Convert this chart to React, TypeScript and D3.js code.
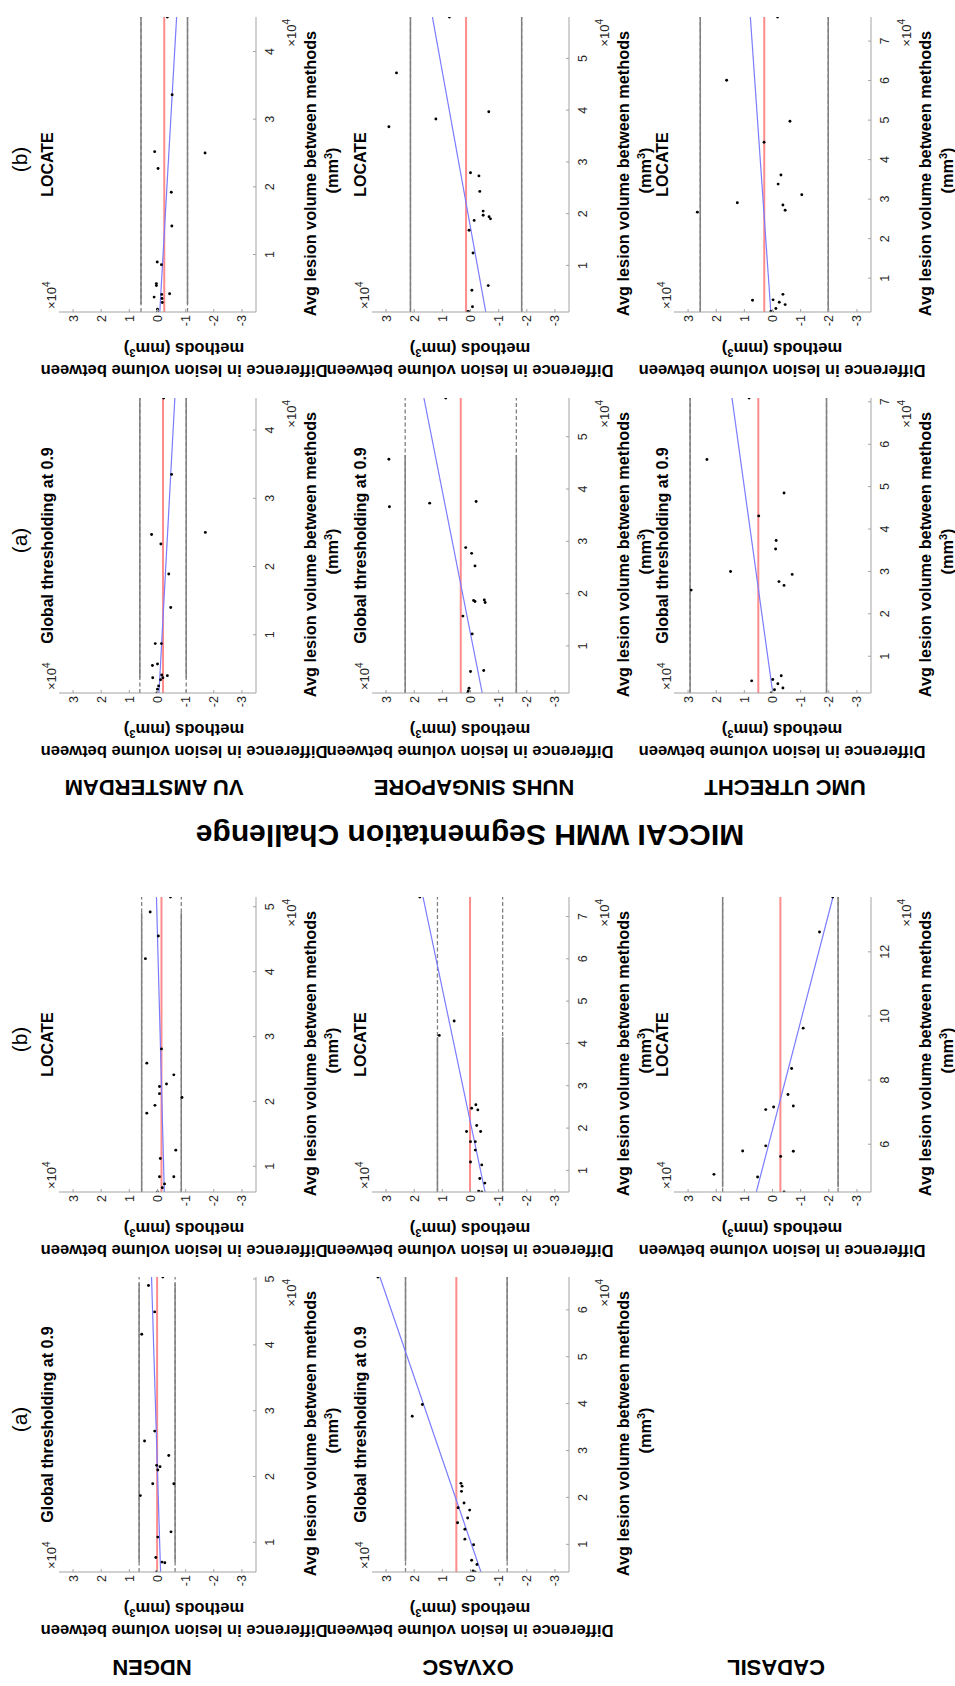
import React from 'react';
import * as d3 from 'd3';

// Bland–Altman data per site: average lesion volume between methods (mm³)
// and difference in lesion volume between methods (mm³).
const vuLocateAvg = [45100, 33600, 25200, 25000, 22700, 19200, 14200, 8900, 8500, 5700, 5400, 4200, 3700, 4100, 3500, 2900, 1900, 1500];
const vuLocateDiff = [-3500, -5200, 1000, -16900, -200, -4900, -5100, 100, -1400, 400, 400, -4300, 1200, -1500, -1600, -1700, 0, 0];

const vuGlobalAvg = [44700, 33500, 25000, 24700, 23300, 18900, 14000, 8700, 8700, 5700, 5500, 4000, 3700, 4100, 3700, 3400, 2500, 2000, 1460];
const vuGlobalDiff = [-2200, -5000, -17000, 2100, -1200, -4000, -4700, 800, -1400, 0, 1800, -3500, 1700, -1500, -1900, -1100, -400, 0, 200];

const nuhsLocateAvg = [58000, 47200, 36800, 38300, 39700, 27900, 27300, 24300, 20500, 19700, 19400, 19000, 18700, 16800, 12400, 6100, 5200, 2000, 1100, 1000];
const nuhsLocateDiff = [7500, 26300, 29000, 12300, -6500, 0, -3000, -3300, -4500, -4500, -6600, -7100, -1300, 500, -900, -6300, -500, -700, 900, 300];

const nuhsGlobalAvg = [57400, 45700, 36600, 37300, 37600, 28800, 27700, 25300, 18700, 18500, 18800, 18300, 15700, 12300, 5100, 5300, 1900, 1400, 1000];
const nuhsGlobalDiff = [8800, 29000, 28800, 14500, -2000, 1700, -400, -1600, -1100, -1600, -4900, -5200, 2700, -600, 0, -4700, 500, 800, 1000];

// the last subject of each Utrecht series lies above the plotted range
const umcLocateAvg = [76100, 60100, 49700, 44400, 36100, 33800, 31100, 29100, 28500, 27200, 26700, 4400, 5900, 4500, 3900, 3300, 2300, 1600, 1430, 38000];
const umcLocateDiff = [-1800, 16300, -6200, 3000, -3000, -2000, -10400, 12500, -3700, -4500, 26700, 7100, -3700, -200, -2400, -4500, -1200, 600, 0, 36000];

const umcGlobalAvg = [70900, 56400, 48500, 43100, 37300, 35300, 30000, 29300, 27600, 26700, 25600, 4200, 4500, 5400, 3500, 2500, 2100, 1330, 40000];
const umcGlobalDiff = [8300, 23300, -4100, 4900, -1300, -1100, 14900, -7000, -2300, -4100, 28900, 7400, -100, -3100, -1900, -3700, -700, 500, 37000];

const ndgenLocateAvg = [51500, 49200, 45500, 42000, 28100, 25900, 24100, 22700, 22300, 21200, 20600, 19400, 18200, 12500, 11200, 8400, 8400, 7300, 6700, 6050];
const ndgenLocateDiff = [-4600, 2600, -300, 4300, -1400, 3800, -5800, -3200, -700, -700, -8700, 900, 3800, -6500, -1000, -700, -5800, -2500, -1700, 0];

const oxvascLocateAvg = [74600, 45300, 41900, 25500, 24300, 24700, 20600, 19200, 19200, 16800, 16800, 14800, 12000, 11300, 8100, 7000, 5100, 4900];
const oxvascLocateDiff = [18000, 5800, 11100, -1900, -2600, -400, -2200, 1400, -3600, 0, -1700, -1700, 0, -4000, -3300, -5100, -2900, -4000];

const cadasilLocateAvg = [137100, 126200, 96200, 83600, 75500, 71600, 70800, 71900, 59500, 57900, 57800, 56200, 49800, 50600, 45100];
const cadasilLocateDiff = [-21400, -16700, -10900, -6800, -5500, -400, 2400, -7400, 2400, 10600, -7400, -2900, 5300, 20800, -4100];

const ndgenGlobalAvg = [50300, 49000, 45000, 41600, 26900, 25400, 23200, 21700, 21500, 21000, 18900, 18900, 17100, 11600, 10800, 7700, 7000, 6900, 5500];
const ndgenGlobalDiff = [-1900, 3200, 1000, 5600, 1000, 4600, -4000, 300, -900, -100, 1700, -5800, 6100, -4800, -100, 600, -1600, -2600, 300];

const oxvascGlobalAvg = [67000, 37300, 39800, 23000, 22400, 21300, 18800, 17800, 17300, 15600, 14600, 13200, 11100, 9900, 6600, 5700, 4300, 4100];
const oxvascGlobalDiff = [32900, 20700, 17100, 3400, 3000, 3200, 2300, 4400, 300, 1000, 4600, 2000, 2000, -1100, -400, -2300, -900, -1600];

// tick labels (×10^4)
const yTicks = [-3, -2, -1, 0, 1, 2, 3];
const ticks4 = [1, 2, 3, 4];
const ticks5 = [1, 2, 3, 4, 5];
const ticks6 = [1, 2, 3, 4, 5, 6];
const ticks7 = [1, 2, 3, 4, 5, 6, 7];
const ticksCadasil = [6, 8, 10, 12];

const figureTitle = 'MICCAI WMH Segmentation Challenge';
const topSites = ['VU AMSTERDAM', 'NUHS SINGAPORE', 'UMC UTRECHT'];
const bottomSites = ['NDGEN', 'OXVASC', 'CADASIL'];
const LOCATE = 'LOCATE';
const GLOBAL = 'Global thresholding at 0.9';

const INF = Infinity;
const panels = [
  { id: 'vuL', row: 0, col: 0, title: LOCATE, tag: '(b)', avg: vuLocateAvg, diff: vuLocateDiff, ticks: ticks4, solid: [2700, INF] },
  { id: 'nuL', row: 0, col: 1, title: LOCATE, avg: nuhsLocateAvg, diff: nuhsLocateDiff, ticks: ticks5, solid: [-INF, INF] },
  { id: 'umL', row: 0, col: 2, title: LOCATE, avg: umcLocateAvg, diff: umcLocateDiff, ticks: ticks7, solid: [-INF, INF] },
  { id: 'vuG', row: 1, col: 0, title: GLOBAL, tag: '(a)', avg: vuGlobalAvg, diff: vuGlobalDiff, ticks: ticks4, solid: [3700, INF] },
  { id: 'nuG', row: 1, col: 1, title: GLOBAL, avg: nuhsGlobalAvg, diff: nuhsGlobalDiff, ticks: ticks5, solid: [-INF, 46500] },
  { id: 'umG', row: 1, col: 2, title: GLOBAL, avg: umcGlobalAvg, diff: umcGlobalDiff, ticks: ticks7, solid: [-INF, INF] },
  { id: 'ndL', row: 2, col: 0, title: LOCATE, tag: '(b)', avg: ndgenLocateAvg, diff: ndgenLocateDiff, ticks: ticks5, solid: [-INF, 49100] },
  { id: 'oxL', row: 2, col: 1, title: LOCATE, avg: oxvascLocateAvg, diff: oxvascLocateDiff, ticks: ticks7, solid: [-INF, 41500] },
  { id: 'caL', row: 2, col: 2, title: LOCATE, avg: cadasilLocateAvg, diff: cadasilLocateDiff, ticks: ticksCadasil, solid: [46600, INF] },
  { id: 'ndG', row: 3, col: 0, title: GLOBAL, tag: '(a)', avg: ndgenGlobalAvg, diff: ndgenGlobalDiff, ticks: ticks5, solid: [7000, 49300] },
  { id: 'oxG', row: 3, col: 1, title: GLOBAL, avg: oxvascGlobalAvg, diff: oxvascGlobalDiff, ticks: ticks6, solid: [6400, INF] },
];

// page layout
const WIDTH = 955;
const HEIGHT = 1686;
const colLeft = [59, 372, 674];
const rowTop = [17, 398, 897, 1277];
const LEN = 295; // length of the volume axis (drawn vertically on the page)
const SPAN = 197; // length of the difference axis
const yLabelCenter = [125, 98, 108];
const topSiteX = [154, 474, 785];
const bottomSiteX = [152, 468, 776];
const SCALE = 1e4;

const FONT = '"Liberation Sans", Arial, Helvetica, sans-serif';
const INK = '#262626';
const AXIS = '#a3a3a3';
const LOA = '#808080';
const MEAN = '#ff8c8c';
const FIT = '#7b7bff';

function linearFit(xs: number[], ys: number[]) {
  const mx = d3.mean(xs) as number;
  const my = d3.mean(ys) as number;
  let sxy = 0;
  let sxx = 0;
  xs.forEach((xv, i) => {
    sxy += (xv - mx) * (ys[i] - my);
    sxx += (xv - mx) * (xv - mx);
  });
  const slope = sxy / sxx;
  return { slope, intercept: my - slope * mx };
}

function Panel({ p }: { p: any }) {
  const x = d3.scaleLinear().domain(d3.extent(p.avg as number[]) as [number, number]).range([0, LEN]);
  const y = d3.scaleLinear().domain([-3.5 * SCALE, 3.5 * SCALE]).range([SPAN, 0]);
  const [x0, x1] = x.domain();
  const [yMin, yMax] = y.domain();
  const mean = d3.mean(p.diff as number[]) as number;
  const sd = d3.deviation(p.diff as number[]) as number;
  const limits = [mean + 1.96 * sd, mean - 1.96 * sd];
  const { slope, intercept } = linearFit(p.avg, p.diff);
  const pts = (p.avg as number[])
    .map((a, i) => [a, p.diff[i]] as [number, number])
    .filter(([a, d]) => d >= yMin && d <= yMax && a >= x0 && a <= x1);
  const s0 = Math.max(x0, p.solid[0]);
  const s1 = Math.min(x1, p.solid[1]);
  const clipId = `clip-${p.id}`;
  const tf = `translate(${colLeft[p.col]},${rowTop[p.row] + LEN}) rotate(-90)`;

  return (
    <g transform={tf} fontFamily={FONT}>
      <defs>
        <clipPath id={clipId}>
          <rect x={0} y={0} width={LEN} height={SPAN} />
        </clipPath>
      </defs>
      <g clipPath={`url(#${clipId})`}>
        {limits.map((l, i) => (
          <g key={i}>
            <line x1={x(x0)} x2={x(x1)} y1={y(l)} y2={y(l)} stroke={LOA} strokeWidth={1.3} strokeDasharray="4 2.5" />
            {s1 > s0 && <line x1={x(s0)} x2={x(s1)} y1={y(l)} y2={y(l)} stroke={LOA} strokeWidth={1.5} />}
          </g>
        ))}
        <line x1={x(x0)} x2={x(x1)} y1={y(mean)} y2={y(mean)} stroke={MEAN} strokeWidth={2} />
        <line
          x1={x(x0)}
          x2={x(x1)}
          y1={y(intercept + slope * x0)}
          y2={y(intercept + slope * x1)}
          stroke={FIT}
          strokeWidth={1.2}
        />
        {pts.map(([a, d], i) => (
          <circle key={i} cx={x(a)} cy={y(d)} r={1.45} fill="#000" />
        ))}
      </g>

      {/* axes */}
      <line x1={0} x2={LEN} y1={SPAN} y2={SPAN} stroke={AXIS} strokeWidth={1} />
      <line x1={0} x2={0} y1={0} y2={SPAN} stroke={AXIS} strokeWidth={1} />
      {p.ticks.map((t: number) => (
        <g key={`xt${t}`}>
          <line x1={x(t * SCALE)} x2={x(t * SCALE)} y1={SPAN} y2={SPAN - 3} stroke={AXIS} />
          <text x={x(t * SCALE)} y={SPAN + 18} textAnchor="middle" fontSize={12.5} fill={INK}>
            {t}
          </text>
        </g>
      ))}
      {yTicks.map((t) => (
        <g key={`yt${t}`}>
          <line x1={0} x2={3} y1={y(t * SCALE)} y2={y(t * SCALE)} stroke={AXIS} />
          <text x={-3} y={y(t * SCALE) + 4.5} textAnchor="end" fontSize={12.5} fill={INK}>
            {t}
          </text>
        </g>
      ))}
      <text x={3} y={-3} fontSize={13} fill={INK}>
        ×10<tspan dy={-6} fontSize={10}>4</tspan>
      </text>
      <text x={LEN - 2} y={SPAN + 40} textAnchor="end" fontSize={13} fill={INK}>
        ×10<tspan dy={-6} fontSize={10}>4</tspan>
      </text>

      {/* titles */}
      <text x={LEN / 2} y={-6} textAnchor="middle" fontSize={16} fontWeight="bold" fill="#000">
        {p.title}
      </text>
      {p.tag && (
        <text x={LEN / 2 + 5} y={-32} textAnchor="middle" fontSize={21} fill="#000">
          {p.tag}
        </text>
      )}

      {/* volume axis label */}
      <text x={LEN / 2 - 9} y={SPAN + 60} textAnchor="middle" fontSize={16.3} fontWeight="bold" fill="#000">
        Avg lesion volume between methods
      </text>
      <text x={LEN / 2 - 6} y={SPAN + 82} textAnchor="middle" fontSize={16.3} fontWeight="bold" fill="#000">
        (mm<tspan dy={-6} fontSize={11}>3</tspan>
        <tspan dy={6}>)</tspan>
      </text>

      {/* difference axis label */}
      <text
        transform={`translate(-52.5,${yLabelCenter[p.col]}) rotate(-90)`}
        textAnchor="middle"
        fontSize={16.6}
        fontWeight="bold"
        fill="#000"
      >
        Difference in lesion volume between
      </text>
      <text
        transform={`translate(-30.5,${yLabelCenter[p.col]}) rotate(-90)`}
        textAnchor="middle"
        fontSize={16.6}
        fontWeight="bold"
        fill="#000"
      >
        methods  (mm<tspan dy={-6} fontSize={11}>3</tspan>
        <tspan dy={6}>)</tspan>
      </text>
    </g>
  );
}

function Flipped({ x, y, size, children }: { x: number; y: number; size: number; children: React.ReactNode }) {
  return (
    <text
      transform={`translate(${x},${y}) rotate(180)`}
      textAnchor="middle"
      dy="0.36em"
      fontFamily={FONT}
      fontWeight="bold"
      fontSize={size}
      fill="#000"
    >
      {children}
    </text>
  );
}

export default function App() {
  return (
    <svg
      width={WIDTH}
      height={HEIGHT}
      viewBox={`0 0 ${WIDTH} ${HEIGHT}`}
      style={{ position: 'absolute', left: 0, top: 0, display: 'block', background: '#fff' }}
    >
      <rect x={0} y={0} width={WIDTH} height={HEIGHT} fill="#fff" />
      {panels.map((p) => (
        <Panel key={p.id} p={p} />
      ))}
      {topSites.map((s, i) => (
        <Flipped key={s} x={topSiteX[i]} y={788} size={22}>
          {s}
        </Flipped>
      ))}
      <Flipped x={470} y={836} size={30}>
        {figureTitle}
      </Flipped>
      {bottomSites.map((s, i) => (
        <Flipped key={s} x={bottomSiteX[i]} y={1668} size={22}>
          {s}
        </Flipped>
      ))}
    </svg>
  );
}
